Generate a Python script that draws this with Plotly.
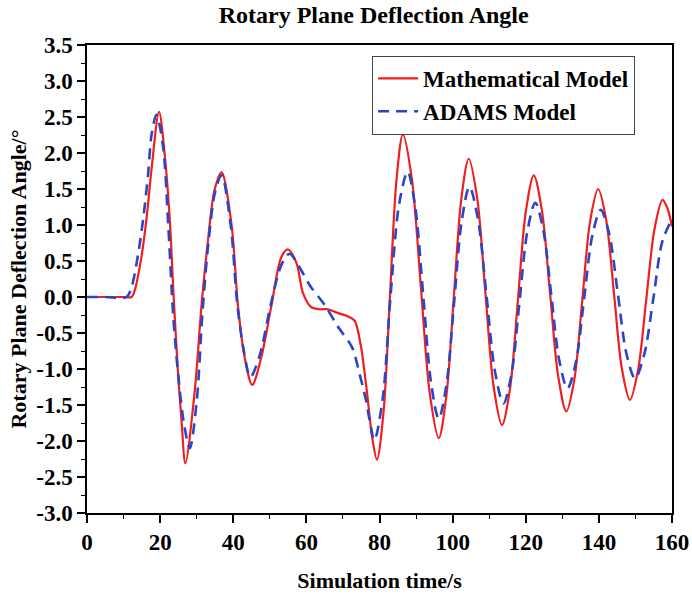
import plotly.graph_objects as go

# Mathematical Model (red, solid)
t_math = [0, 5, 10, 12.2, 13.1, 14.9, 16.3, 17.7, 19.7, 21.3, 22.7, 23.6, 24.9, 25.9, 26.9,
          29.5, 31.3, 33.1, 34.9, 36.8, 39.5, 41.3, 43.1, 45.2, 47.7, 50.4, 53.2, 55.0,
          57.3, 59.1, 61.3, 63.5, 65.9, 68.5, 71.4, 73.2, 74.8, 76.4, 78.0, 79.3,
          81.1, 82.85, 84.6, 86.4, 88.85, 91.3, 93.75, 96.2, 98.25, 100.3, 102.35, 104.4,
          106.7, 108.95, 111.2, 113.5, 115.7, 117.85, 120.0, 122.2, 124.4, 126.65, 128.9,
          131.1, 133.3, 135.45, 137.6, 139.8, 142.0, 144.15, 146.3, 148.5, 150.7, 152.95,
          155.2, 157.4, 158.7, 160]
y_math = [0, 0, 0, 0, 0.1, 0.56, 1.1, 1.8, 2.57, 1.95, 1.02, 0.1, -1.06, -1.75, -2.31,
          -1.29, -0.13, 0.79, 1.49, 1.73, 1.02, -0.13, -0.83, -1.22, -0.83, -0.13, 0.56, 0.66,
          0.47, 0.05, -0.14, -0.17, -0.17, -0.22, -0.27, -0.33, -0.65, -1.25, -1.95, -2.26,
          -1.6, 0.0, 1.6, 2.26, 1.64, 0.15, -1.34, -1.96, -1.39, -0.02, 1.35, 1.92,
          1.38, 0.07, -1.24, -1.78, -1.27, -0.05, 1.18, 1.69, 1.21, 0.05, -1.11,
          -1.59, -1.14, -0.05, 1.05, 1.50, 1.07, 0.04, -1.0, -1.43, -1.02, -0.04,
          0.94, 1.35, 1.24, 0.98]

# ADAMS Model (blue, dashed)
t_adams = [0, 5, 10.8, 12.2, 14.0, 15.4, 16.7, 17.7, 19.0, 20.8, 22.2, 23.6, 24.9, 26.5, 28.1,
           30.0, 31.6, 33.2, 35.0, 36.8, 39.3, 41.1, 42.9, 44.7, 47.3, 50.2, 53.2, 55.4,
           57.9, 61.1, 65.0, 68.6, 72.5, 74.5, 76.2, 77.3, 78.6, 80.9, 83.0, 85.4, 87.7,
           89.8, 91.95, 94.1, 96.2, 98.3, 100.4, 102.5, 104.6, 106.9, 109.25, 111.6, 113.9,
           116.1, 118.25, 120.4, 122.6, 124.8, 127.0, 129.2, 131.4, 133.7, 135.95, 138.2,
           140.5, 142.85, 145.2, 147.55, 149.9, 152.4, 154.9, 157.4, 160]
y_adams = [0, 0, 0, 0.14, 0.6, 1.1, 1.7, 2.27, 2.53, 2.09, 1.02, -0.27, -1.06, -1.75, -2.1,
           -1.45, -0.2, 0.75, 1.45, 1.69, 1.0, -0.1, -0.75, -1.11, -0.8, -0.12, 0.45, 0.6,
           0.43, 0.15, -0.11, -0.41, -0.70, -1.06, -1.41, -1.71, -1.99, -1.4, 0.0, 1.3, 1.74,
           1.24, 0.03, -1.19, -1.69, -1.22, -0.08, 1.06, 1.53, 1.09, 0.03, -1.04, -1.48,
           -1.07, -0.09, 0.90, 1.31, 0.93, 0.02, -0.89, -1.27, -0.91, -0.03, 0.85,
           1.21, 0.87, 0.04, -0.79, -1.13, -0.8, -0.02, 0.78, 1.08]

x_ticks = [0, 20, 40, 60, 80, 100, 120, 140, 160]
y_ticks = [3.5, 3.0, 2.5, 2.0, 1.5, 1.0, 0.5, 0.0, -0.5, -1.0, -1.5, -2.0, -2.5, -3.0]

FONT = "Times New Roman, Liberation Serif, serif"

fig = go.Figure()
fig.add_trace(go.Scatter(x=t_math, y=y_math, mode="lines", name="Mathematical Model",
                         line=dict(color="#f01e1e", width=2.2, shape="spline", smoothing=0.9)))
fig.add_trace(go.Scatter(x=t_adams, y=y_adams, mode="lines", name="ADAMS Model",
                         line=dict(color="#2b44c8", width=2.6, dash="11px,7px",
                                   shape="spline", smoothing=0.9)))

axis_common = dict(showline=True, mirror=True, linecolor="black", linewidth=1.5,
                   ticks="outside", ticklen=8, tickwidth=1.5, tickcolor="black",
                   showgrid=False, zeroline=False, automargin=False,
                   tickfont=dict(family=FONT, size=23, color="black", weight="bold"))

fig.update_xaxes(range=[0, 160], tickvals=x_ticks, ticktext=[str(v) for v in x_ticks],
                 minor=dict(ticks="outside", ticklen=4, tickwidth=1.2, tickcolor="black", dtick=10),
                 title=dict(text="Simulation time/s", standoff=18,
                            font=dict(family=FONT, size=22, color="black", weight="bold")),
                 **axis_common)
fig.update_yaxes(range=[-3.0, 3.5], tickvals=y_ticks, ticktext=[f"{v:.1f}" for v in y_ticks],
                 minor=dict(ticks="outside", ticklen=4, tickwidth=1.2, tickcolor="black", dtick=0.25),
                 title=dict(text="Rotary Plane Deflection Angle/°", standoff=4,
                            font=dict(family=FONT, size=22, color="black", weight="bold")),
                 **axis_common)

fig.update_layout(
    width=692, height=597,
    margin=dict(l=87, r=20, t=45, b=84),
    paper_bgcolor="white", plot_bgcolor="white",
    title=dict(text="Rotary Plane Deflection Angle", x=0.54, xanchor="center",
               y=0.975, yanchor="middle",
               font=dict(family=FONT, size=24, color="black", weight="bold")),
    legend=dict(x=0.487, y=0.977, xanchor="left", yanchor="top",
                bordercolor="#444444", borderwidth=1.2, bgcolor="white",
                font=dict(family=FONT, size=23, color="black", weight="bold"),
                itemwidth=40, tracegroupgap=0),
    showlegend=True,
)

fig.write_html("out.html")
